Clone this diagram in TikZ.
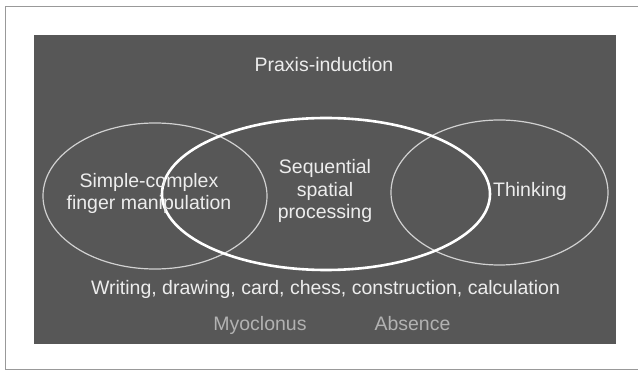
\documentclass[tikz,border=0pt]{standalone}
\usepackage{fontspec}
\setmainfont{Liberation Sans}
\usetikzlibrary{shapes.geometric}

\begin{document}
\begin{tikzpicture}[
    x=1pt, y=-1pt,
    panel/.style={rectangle, fill=black!66, draw=none, inner sep=0pt},
    ring/.style={ellipse, draw=white!82!black, line width=1.2pt, inner sep=0pt},
    bigring/.style={ellipse, draw=white, line width=2.6pt, inner sep=0pt},
    lbl/.style={text=white!93!black, font=\fontsize{19.5}{22.5}\selectfont, inner sep=0pt, anchor=base},
    dimlbl/.style={lbl, text=black!30}
]
\useasboundingbox (0,0) rectangle (638,371);

% page frame
\draw[black!40, line width=0.5pt] (638,6) -- (5,6) -- (5,369) -- (638,369);

% dark panel
\node[panel, minimum width=582pt, minimum height=309pt] (panel) at (325,189.5) {};

% rings
\node[ring, minimum width=224pt, minimum height=146pt] (finger) at (155,196) {};
\node[ring, minimum width=217pt, minimum height=145pt] (think) at (499.5,192.5) {};
\node[bigring, minimum width=328pt, minimum height=152pt] (seq) at (326,194) {};

% labels
\node[lbl] (praxis) at (324,72) {Praxis-induction};
\node[lbl, align=center, anchor=center] (fingertxt) at (149,193.5) {Simple-complex\\finger manipulation};
\node[lbl, align=center, anchor=center] (seqtxt) at (325,191) {Sequential\\spatial\\processing};
\node[lbl] (thinktxt) at (530,197) {Thinking};
\node[lbl] (tasks) at (325.5,295) {Writing, drawing, card, chess, construction, calculation};
\node[dimlbl] (myo) at (260,331) {Myoclonus};
\node[dimlbl] (absence) at (412.5,331) {Absence};

\end{tikzpicture}
\end{document}
